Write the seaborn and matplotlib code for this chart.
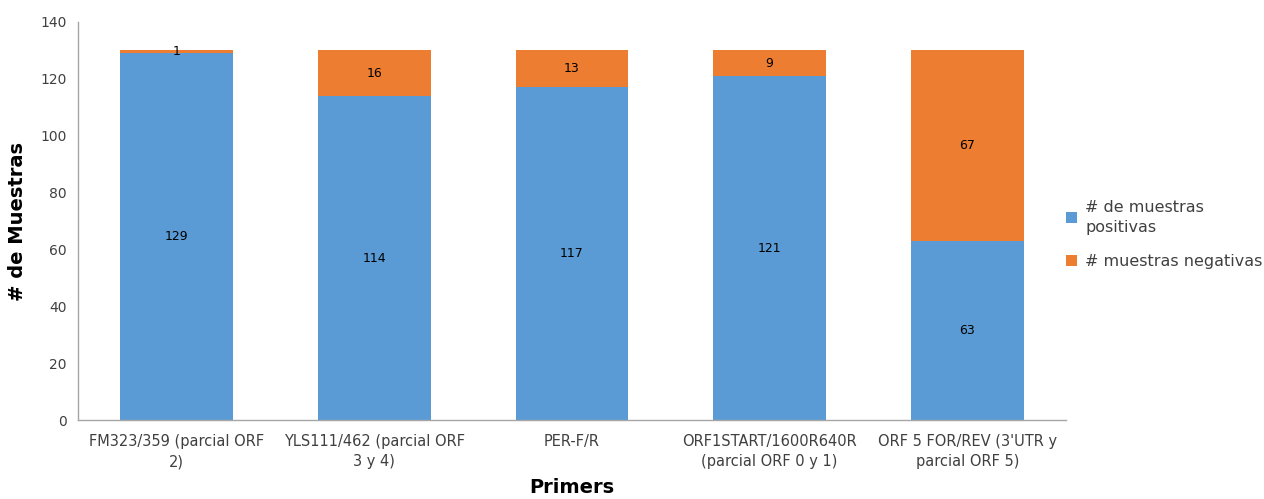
import matplotlib
matplotlib.use("Agg")
import matplotlib.pyplot as plt
import seaborn as sns
import pandas as pd
from matplotlib.patches import Patch

categories = [
    "FM323/359 (parcial ORF\n2)",
    "YLS111/462 (parcial ORF\n3 y 4)",
    "PER-F/R",
    "ORF1START/1600R640R\n(parcial ORF 0 y 1)",
    "ORF 5 FOR/REV (3'UTR y\nparcial ORF 5)",
]
positivas = [129, 114, 117, 121, 63]
negativas = [1, 16, 13, 9, 67]
series_names = ["# de muestras\npositivas", "# muestras negativas"]

BLUE = "#5B9BD5"
ORANGE = "#ED7D31"
TEXT = "#404040"

df = pd.DataFrame({"primer": categories, "pos": positivas, "neg": negativas})
df["total"] = df["pos"] + df["neg"]

sns.set_theme(style="white")
plt.rcParams["font.family"] = ["DejaVu Sans"]

fig = plt.figure(figsize=(12.64, 4.99), dpi=100)
ax = fig.add_axes([0.0617, 0.158, 0.7817, 0.798])

# stacked bars: totals (orange) behind positives (blue)
sns.barplot(data=df, x="primer", y="total", color=ORANGE, width=0.57,
            saturation=1, ax=ax, order=categories)
sns.barplot(data=df, x="primer", y="pos", color=BLUE, width=0.57,
            saturation=1, ax=ax, order=categories)

bars = ax.patches
n = len(categories)
tot_bars = bars[:n]
pos_bars = bars[n:2 * n]
for b in list(tot_bars) + list(pos_bars):
    b.set_edgecolor("none")

for i in range(n):
    pb = pos_bars[i]
    cx = pb.get_x() + pb.get_width() / 2
    ax.text(cx, positivas[i] / 2, str(positivas[i]), ha="center", va="center",
            fontsize=9, color="black")
    ax.text(cx, positivas[i] + negativas[i] / 2, str(negativas[i]),
            ha="center", va="center", fontsize=9, color="black")

ax.set_ylim(0, 140)
ax.set_yticks(range(0, 141, 20))
ax.set_xlim(-0.5, n - 0.5)
ax.tick_params(axis="both", length=0, labelsize=10, colors=TEXT, pad=8)
ax.tick_params(axis="x", pad=10, labelsize=10.5)
for lbl in ax.get_xticklabels():
    lbl.set_linespacing(1.45)

for s in ["top", "right"]:
    ax.spines[s].set_visible(False)
for s in ["left", "bottom"]:
    ax.spines[s].set_color("#A6A6A6")
    ax.spines[s].set_linewidth(1.0)

ax.set_xlabel("Primers", fontsize=14, fontweight="bold", color="black", labelpad=6)
ax.set_ylabel("# de Muestras", fontsize=14, fontweight="bold", color="black", labelpad=10)

handles = [Patch(facecolor=BLUE, edgecolor="none"),
           Patch(facecolor=ORANGE, edgecolor="none")]
leg = fig.legend(handles, series_names, loc="center left",
                 bbox_to_anchor=(0.832, 0.53), frameon=False, fontsize=11.5,
                 handlelength=0.7, handleheight=0.7, handletextpad=0.5,
                 labelspacing=1.2, labelcolor=TEXT)
for t in leg.get_texts():
    t.set_linespacing(1.45)

fig.savefig("out.png", dpi=100)
